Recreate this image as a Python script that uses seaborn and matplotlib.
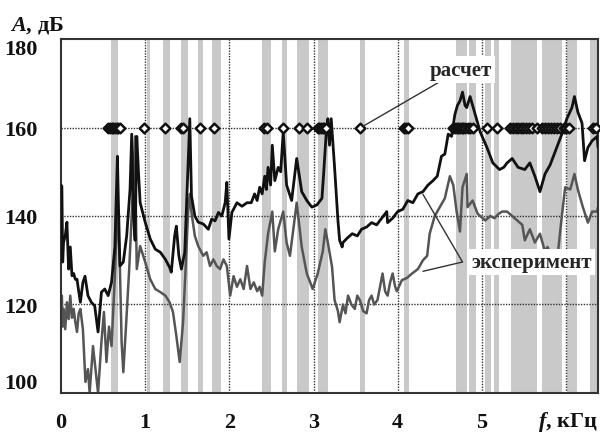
import numpy as np
import pandas as pd
import matplotlib
matplotlib.use("Agg")
import matplotlib.pyplot as plt
import seaborn as sns

# shaded frequency bands, kHz
bands = [(0.59, 0.68), (1.02, 1.06), (1.21, 1.29), (1.43, 1.51), (1.63, 1.69),
         (1.79, 1.90), (2.39, 2.49), (2.62, 2.68), (2.80, 2.95), (3.05, 3.17),
         (3.55, 3.61), (4.07, 4.14), (4.69, 4.82), (4.85, 4.93), (5.04, 5.11),
         (5.14, 5.20), (5.35, 5.65), (5.72, 5.95), (6.01, 6.13), (6.28, 6.38)]

# calculated resonances ("расчет"), all drawn at 160 dB
calc_f = [0.56, 0.58, 0.60, 0.62, 0.64, 0.66, 0.68, 0.70, 0.99, 1.24, 1.42,
          1.45, 1.65, 1.82, 2.41, 2.45, 2.64, 2.83, 2.92, 3.05, 3.07, 3.09,
          3.11, 3.13, 3.15, 3.55, 4.08, 4.10, 4.12,
          4.66, 4.68, 4.70, 4.72, 4.74, 4.76, 4.78, 4.80, 4.83, 4.86, 4.89,
          5.06, 5.18, 5.33, 5.37, 5.40, 5.43, 5.46, 5.49, 5.52, 5.56, 5.60,
          5.65, 5.72, 5.75, 5.78, 5.82, 5.86, 5.89, 5.93, 5.97, 6.00, 6.03,
          6.32, 6.36]
calc_a = [160] * len(calc_f)

# experiment, black curve
exp1_f = [0.00, 0.01, 0.02, 0.03, 0.05, 0.07, 0.09, 0.11, 0.13, 0.15, 0.17,
          0.19, 0.21, 0.23, 0.26, 0.285, 0.32, 0.36, 0.40, 0.44, 0.48, 0.52,
          0.56, 0.60, 0.64, 0.67, 0.68, 0.70, 0.74, 0.78, 0.82, 0.84, 0.86,
          0.88, 0.90, 0.92, 0.94, 1.00, 1.06, 1.12, 1.18, 1.24, 1.29, 1.31,
          1.35, 1.37, 1.40, 1.43, 1.47, 1.50, 1.53, 1.55, 1.59, 1.63, 1.69,
          1.75, 1.79, 1.83, 1.87, 1.91, 1.95, 1.97, 1.995, 2.03, 2.09, 2.15,
          2.21, 2.26, 2.30, 2.33, 2.36, 2.39, 2.42, 2.44, 2.46, 2.49, 2.51,
          2.54, 2.58, 2.61, 2.64, 2.68, 2.74, 2.80, 2.86, 2.92, 2.98, 3.04,
          3.10, 3.12, 3.15, 3.17, 3.19, 3.21, 3.25, 3.29, 3.31, 3.34, 3.35,
          3.40, 3.46, 3.52, 3.57, 3.63, 3.69, 3.75, 3.81, 3.87, 3.88, 3.94,
          4.00, 4.06, 4.12, 4.18, 4.24, 4.30, 4.36, 4.42, 4.47, 4.52, 4.56,
          4.60, 4.64, 4.68, 4.71, 4.74, 4.77, 4.80, 4.82, 4.86, 4.92, 4.98,
          5.06, 5.13, 5.21, 5.26, 5.30, 5.36, 5.43, 5.51, 5.57, 5.63, 5.69,
          5.75, 5.81, 5.89, 5.95, 6.01, 6.07, 6.10, 6.14, 6.19, 6.22, 6.26,
          6.31, 6.37, 6.38]
exp1_a = [147, 146.7, 129.6, 134, 135.5, 138.6, 128, 133, 126.5, 127, 125.7,
          125.7, 123, 120.5, 125, 126.4, 122, 120.5, 119.7, 113.8, 122.8, 123.5,
          122, 125, 133, 153.5, 144.5, 128.7, 129.6, 135.5, 146, 158.5, 140,
          134.5, 158, 150, 143, 138.6, 134.8, 132.5, 131.8, 130.2, 128.4, 127.3,
          135.5, 137.7, 131, 128, 131.8, 146.7, 162, 144.5, 140, 138.6, 138.2,
          137, 139.3, 138.9, 140.8, 140, 143, 147.6, 134.8, 140.8, 143, 142.2,
          143, 143, 145, 143.5, 146.5, 145, 149, 146, 151, 147, 156,
          148, 151, 150, 159, 147, 143.5, 153, 145.5, 143.5, 142, 142.5,
          144, 149.5, 158.5, 162, 156, 162, 151, 139, 134.5, 133, 134,
          135, 136, 135.5, 137, 137.5, 138.5, 138, 139.5, 141, 138.5, 139.5,
          141, 141.5, 143.5, 143, 145, 145.5, 147, 148, 149, 153.5, 154,
          158.5, 158, 163, 165, 166, 168, 165, 164.5, 167, 163, 159,
          155.5, 152, 150.5, 151, 152, 153, 151, 150.5, 152, 149, 145.5,
          149.5, 151.5, 155.5, 158.5, 162, 164.5, 167, 163.5, 161, 152.5, 155.5,
          157, 158, 155.5]

# experiment, grey curve
exp2_f = [0.00, 0.01, 0.02, 0.03, 0.05, 0.07, 0.09, 0.11, 0.13, 0.15, 0.17,
          0.19, 0.21, 0.23, 0.26, 0.29, 0.32, 0.34, 0.38, 0.41, 0.44, 0.48,
          0.51, 0.54, 0.57, 0.60, 0.64, 0.67, 0.70, 0.72, 0.74, 0.77, 0.81,
          0.85, 0.88, 0.89, 0.90, 0.94, 1.00, 1.06, 1.12, 1.18, 1.24, 1.29,
          1.33, 1.37, 1.41, 1.45, 1.48, 1.51, 1.53, 1.55, 1.59, 1.63, 1.69,
          1.73, 1.77, 1.81, 1.85, 1.89, 1.93, 1.97, 2.01, 2.05, 2.09, 2.13,
          2.17, 2.21, 2.25, 2.29, 2.33, 2.36, 2.39, 2.42, 2.46, 2.51, 2.54,
          2.58, 2.64, 2.68, 2.72, 2.76, 2.80, 2.86, 2.92, 2.99, 3.05, 3.11,
          3.14, 3.17, 3.22, 3.25, 3.29, 3.31, 3.35, 3.38, 3.41, 3.45, 3.49,
          3.52, 3.55, 3.59, 3.63, 3.66, 3.69, 3.72, 3.76, 3.79, 3.82, 3.85,
          3.88, 3.91, 3.94, 3.97, 3.99, 4.05, 4.11, 4.17, 4.24, 4.30, 4.35,
          4.38, 4.44, 4.50, 4.56, 4.62, 4.66, 4.70, 4.74, 4.77, 4.82, 4.83,
          4.89, 4.95, 5.04, 5.10, 5.15, 5.20, 5.24, 5.30, 5.36, 5.42, 5.48,
          5.51, 5.57, 5.63, 5.69, 5.75, 5.78, 5.84, 5.90, 5.95, 5.99, 6.05,
          6.10, 6.14, 6.20, 6.26, 6.31, 6.37, 6.38]
exp2_a = [122, 122, 115, 119, 114.4, 120.5, 116.7, 122, 117, 119, 116,
          113.8, 118, 119, 114.4, 102.5, 105.4, 100, 110.6, 105.4, 100, 111.5,
          118.3, 107, 115, 110.6, 126.4, 143, 128, 111.5, 104.7, 114.4, 128,
          144.5, 158, 140, 128, 133.2, 129.6, 125.7, 123.5, 122.8, 122, 120.5,
          118.3, 112.9, 107, 116, 128, 140.8, 145, 140.8, 135.5, 133.2, 131,
          131.8, 128.7, 130.2, 128.7, 128, 130.2, 128.7, 122, 126.4, 124, 125.7,
          123.5, 128.7, 123.5, 125, 123, 124, 122, 129.5, 136, 141, 132,
          137, 141, 134, 131, 137, 143, 133, 127, 123.5, 127, 132,
          137, 134, 128.5, 121, 118.5, 116, 120, 118, 122, 120, 119,
          122, 121, 118.5, 118, 121, 122, 120, 121, 124, 127, 123,
          122, 125, 127, 124, 123, 125.5, 126, 127, 128, 130, 131,
          136, 140, 142, 144, 149, 147, 141, 136.5, 146.5, 149.5, 142,
          143.5, 140.5, 139, 140, 139.5, 140.5, 141, 141, 140, 139, 138,
          134.5, 137, 134, 136, 132, 133, 130.5, 131, 140, 146.5, 146,
          149.5, 146, 142, 138.5, 141, 141, 142]

x_ticks = [0, 1, 2, 3, 4, 5, 6]
x_labels = ["0", "1", "2", "3", "4", "5", ""]
y_ticks = [100, 120, 140, 160, 180]

sns.set_style("white")
plt.rcParams["font.family"] = ["Liberation Serif", "DejaVu Serif"]
plt.rcParams["font.weight"] = "bold"
plt.rcParams["mathtext.fontset"] = "custom"
plt.rcParams["mathtext.it"] = "Liberation Serif:italic:bold"
plt.rcParams["mathtext.rm"] = "Liberation Serif:bold"

fig = plt.figure(figsize=(6, 4.35), dpi=100)
ax = fig.add_axes([0.1017, 0.0943, 0.895, 0.8137])

for lo, hi in bands:
    ax.axvspan(lo, hi, color="#c9c9c9", lw=0, zorder=0)

for v in [1, 2, 3, 4, 5, 6]:
    ax.axvline(v, color="#333333", lw=1, ls=(0, (1, 1)), zorder=1)
for v in [120, 140, 160]:
    ax.axhline(v, color="#333333", lw=1, ls=(0, (1, 1)), zorder=1)

d1 = pd.DataFrame({"f": exp1_f, "A": exp1_a})
d2 = pd.DataFrame({"f": exp2_f, "A": exp2_a})
dc = pd.DataFrame({"f": calc_f, "A": calc_a})

sns.lineplot(data=d2, x="f", y="A", ax=ax, color="#555555", lw=1.8,
             sort=False, estimator=None, zorder=2)
sns.lineplot(data=d1, x="f", y="A", ax=ax, color="#111111", lw=2.0,
             sort=False, estimator=None, zorder=3)
sns.scatterplot(data=dc, x="f", y="A", ax=ax, marker="D", s=24,
                facecolor="white", edgecolor="#111111", linewidth=1.8,
                zorder=4, clip_on=False)

ax.set_xlim(0, 6.38)
ax.set_ylim(100, 180)
ax.set_xticks(x_ticks)
ax.set_xticklabels(x_labels)
ax.set_yticks(y_ticks)
ax.tick_params(axis="both", length=0, labelsize=16, colors="#111111")
ax.tick_params(axis="x", pad=14)
ax.tick_params(axis="y", pad=17)
ylabels = ax.get_yticklabels()
ylabels[0].set_va("bottom")
ylabels[-1].set_va("top")
ax.set_xlabel("")
ax.set_ylabel("")

for s in ax.spines.values():
    s.set_color("#333333")
    s.set_linewidth(1.5)

fig.text(0.017, 0.942, "$A$, дБ", fontsize=16, ha="left", va="center", color="#111111")
fig.text(0.897, 0.031, "$f$, кГц", fontsize=16, ha="left", va="center", color="#111111")

box = dict(boxstyle="square,pad=0.15", fc="white", ec="none")
ax.annotate("расчет", xy=(3.59, 160.3), xytext=(4.38, 173.1), fontsize=15,
            ha="left", va="center", bbox=box,
            arrowprops=dict(arrowstyle="-", color="#333333", lw=1,
                            shrinkA=0, shrinkB=0), zorder=5)
ax.annotate("", xy=(4.30, 144.9), xytext=(4.77, 129.6),
            arrowprops=dict(arrowstyle="-", color="#333333", lw=1,
                            shrinkA=0, shrinkB=0), zorder=5)
ax.annotate("", xy=(4.30, 127.5), xytext=(4.77, 129.6),
            arrowprops=dict(arrowstyle="-", color="#333333", lw=1,
                            shrinkA=0, shrinkB=0), zorder=5)
ax.text(4.88, 129.6, "эксперимент", fontsize=15, ha="left", va="center",
        bbox=box, zorder=6)

fig.savefig("out.png", dpi=100)
